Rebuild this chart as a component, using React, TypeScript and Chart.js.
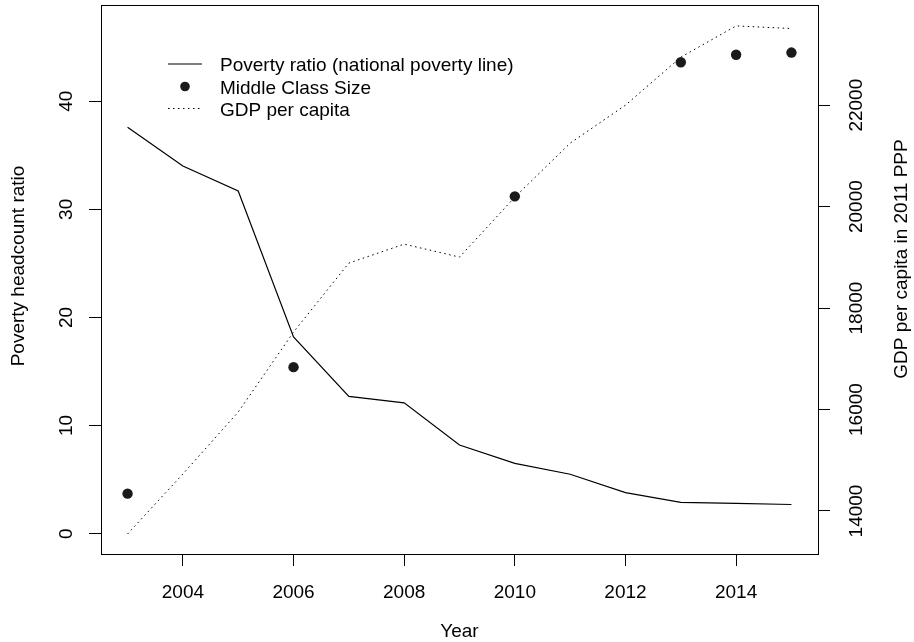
import React, { useEffect, useRef } from 'react';
import { Chart, registerables } from 'chart.js';

Chart.register(...registerables);

// ---- Data ----
const years = [2003, 2004, 2005, 2006, 2007, 2008, 2009, 2010, 2011, 2012, 2013, 2014, 2015];
const povertyRatio = [37.6, 34.0, 31.7, 18.2, 12.7, 12.1, 8.2, 6.5, 5.5, 3.8, 2.9, 2.8, 2.7];
const middleClassYears = [2003, 2006, 2010, 2013, 2014, 2015];
const middleClassSize = [3.7, 15.4, 31.2, 43.6, 44.3, 44.5];
const gdpPerCapita = [13547, 14729, 15951, 17527, 18887, 19261, 19005, 20187, 21251, 22000, 22946, 23563, 23511];

const xTicks = [2004, 2006, 2008, 2010, 2012, 2014];
const leftTicks = [0, 10, 20, 30, 40];
const rightTicks = [14000, 16000, 18000, 20000, 22000];

const legendLabels = ['Poverty ratio (national poverty line)', 'Middle Class Size', 'GDP per capita'];
const xTitle = 'Year';
const leftTitle = 'Poverty headcount ratio';
const rightTitle = 'GDP per capita in 2011 PPP';

const FONT = '19px "Liberation Sans", Arial, Helvetica, sans-serif';
const INK = '#000';

const overlayPlugin = {
  id: 'rOverlay',
  afterDraw(chart: any) {
    const ctx = chart.ctx as CanvasRenderingContext2D;
    const { left, right, top, bottom } = chart.chartArea;
    const xs = chart.scales.x;
    const yl = chart.scales.y;
    const yr = chart.scales.y2;
    ctx.save();
    // box
    ctx.strokeStyle = INK;
    ctx.lineWidth = 1;
    ctx.strokeRect(Math.round(left) + 0.5, Math.round(top) + 0.5, Math.round(right - left), Math.round(bottom - top));

    ctx.fillStyle = INK;
    ctx.font = FONT;
    // x tick labels
    ctx.textAlign = 'center';
    ctx.textBaseline = 'alphabetic';
    xTicks.forEach((v) => {
      ctx.fillText(String(v), xs.getPixelForValue(v), 597.5);
    });
    // x title
    ctx.fillText(xTitle, (left + right) / 2, 637);

    const rotText = (t: string, x: number, y: number) => {
      ctx.save();
      ctx.translate(x, y);
      ctx.rotate(-Math.PI / 2);
      ctx.textAlign = 'center';
      ctx.textBaseline = 'alphabetic';
      ctx.fillText(t, 0, 6.8);
      ctx.restore();
    };
    leftTicks.forEach((v) => rotText(String(v), 65.5, yl.getPixelForValue(v)));
    rightTicks.forEach((v) => rotText(String(v), 855, yr.getPixelForValue(v)));
    rotText(leftTitle, 17.5, 266);
    rotText(rightTitle, 900, 259);

    // legend
    const lx0 = 168, lx1 = 202, tx = 220;
    const rows = [64, 86.5, 108.5];
    ctx.textAlign = 'left';
    ctx.textBaseline = 'alphabetic';
    legendLabels.forEach((t, i) => ctx.fillText(t, tx, rows[i] + 7));
    ctx.strokeStyle = INK;
    ctx.lineWidth = 1.2;
    ctx.beginPath();
    ctx.moveTo(lx0, rows[0]);
    ctx.lineTo(lx1, rows[0]);
    ctx.stroke();
    ctx.fillStyle = '#1a1a1a';
    ctx.beginPath();
    ctx.arc((lx0 + lx1) / 2, rows[1], 4.8, 0, Math.PI * 2);
    ctx.fill();
    ctx.lineWidth = 1;
    ctx.setLineDash([1.5, 3.5]);
    ctx.beginPath();
    ctx.moveTo(lx0, rows[2]);
    ctx.lineTo(lx1, rows[2]);
    ctx.stroke();
    ctx.restore();
  },
};

export default function App() {
  const ref = useRef<HTMLCanvasElement | null>(null);
  useEffect(() => {
    if (!ref.current) return;
    const chart = new Chart(ref.current, {
      type: 'line',
      data: {
        datasets: [
          {
            label: legendLabels[0],
            data: years.map((x, i) => ({ x, y: povertyRatio[i] })),
            borderColor: INK,
            borderWidth: 1.2,
            pointRadius: 0,
            tension: 0,
            yAxisID: 'y',
          },
          {
            label: legendLabels[1],
            data: middleClassYears.map((x, i) => ({ x, y: middleClassSize[i] })),
            showLine: false,
            pointRadius: 5.2,
            pointBackgroundColor: '#1a1a1a',
            pointBorderColor: '#1a1a1a',
            pointBorderWidth: 0,
            yAxisID: 'y',
          },
          {
            label: legendLabels[2],
            data: years.map((x, i) => ({ x, y: gdpPerCapita[i] })),
            borderColor: INK,
            borderWidth: 1,
            borderDash: [1.5, 3.5],
            pointRadius: 0,
            tension: 0,
            yAxisID: 'y2',
          },
        ],
      },
      options: {
        responsive: false,
        animation: false,
        layout: { padding: { top: 5, left: 0, right: 0, bottom: 0 } },
        plugins: { legend: { display: false }, tooltip: { enabled: false } },
        scales: {
          x: {
            type: 'linear',
            position: 'bottom',
            min: 2002.52,
            max: 2015.48,
            afterBuildTicks: (s: any) => { s.ticks = xTicks.map((v) => ({ value: v })); },
            afterFit: (s: any) => { s.height = 88; },
            ticks: { display: false },
            grid: { drawOnChartArea: false, drawTicks: true, tickLength: 12, color: INK, lineWidth: 1 },
            border: { display: false },
          },
          y: {
            type: 'linear',
            position: 'left',
            min: -1.88,
            max: 48.88,
            afterBuildTicks: (s: any) => { s.ticks = leftTicks.map((v) => ({ value: v })); },
            afterFit: (s: any) => { s.width = 101; },
            ticks: { display: false },
            grid: { drawOnChartArea: false, drawTicks: true, tickLength: 12, color: INK, lineWidth: 1 },
            border: { display: false },
          },
          y2: {
            type: 'linear',
            position: 'right',
            min: 13152,
            max: 23971,
            afterBuildTicks: (s: any) => { s.ticks = rightTicks.map((v) => ({ value: v })); },
            afterFit: (s: any) => { s.width = 96; },
            ticks: { display: false },
            grid: { drawOnChartArea: false, drawTicks: true, tickLength: 12, color: INK, lineWidth: 1 },
            border: { display: false },
          },
        },
      },
      plugins: [overlayPlugin],
    });
    return () => chart.destroy();
  }, []);
  return (
    <div style={{ position: 'absolute', left: 0, top: 0, width: 914, height: 642, background: '#fff' }}>
      <canvas ref={ref} width={914} height={642} style={{ width: 914, height: 642, display: 'block' }} />
    </div>
  );
}
